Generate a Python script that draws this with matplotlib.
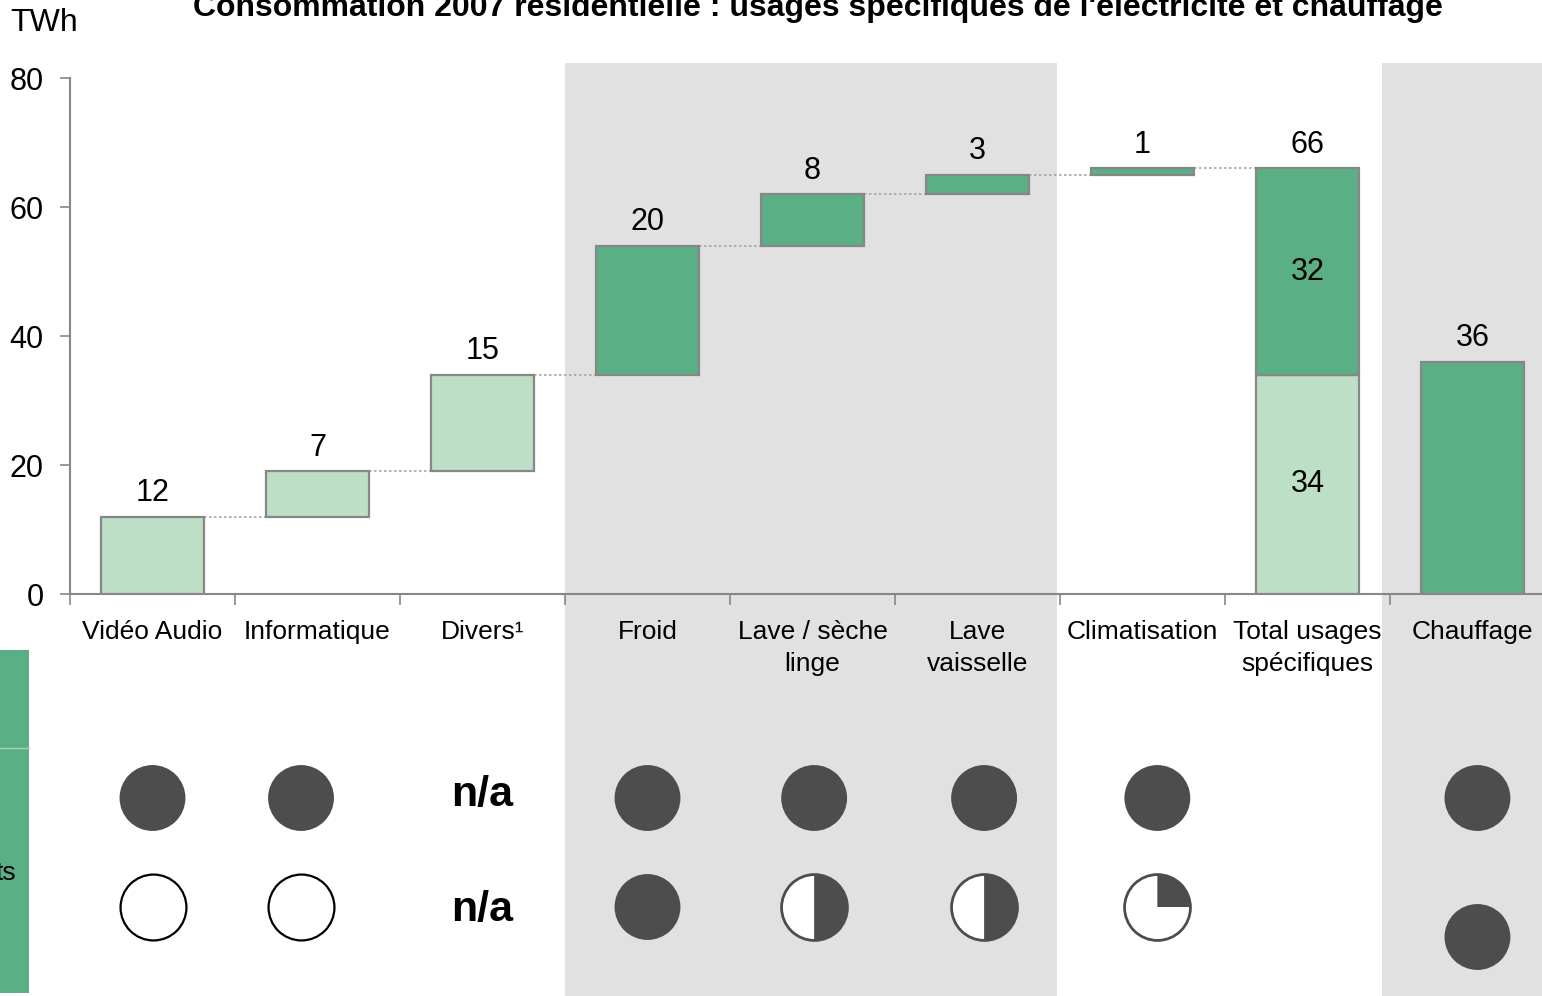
import numpy as np
import matplotlib
matplotlib.use('Agg')
import matplotlib.pyplot as plt
from matplotlib.patches import Rectangle
from matplotlib.path import Path
import matplotlib.transforms as mtransforms

plt.rcParams['font.family'] = ['Liberation Sans', 'DejaVu Sans']

# données (TWh)
categories = ['Vidéo Audio', 'Informatique', 'Divers¹', 'Froid', 'Lave / sèche\nlinge',
              'Lave\nvaisselle', 'Climatisation', 'Total usages\nspécifiques', 'Chauffage']
steps = [12, 7, 15, 20, 8, 3, 1]             # cascade des usages spécifiques
steps_dark = [False, False, False, True, True, True, True]
total_light = 34
total_dark = 32
total = 66
chauffage = 36
# boules de Harvey (None = vide / n/a)
row1 = [1, 1, None, 1, 1, 1, 1, None, 1]
row2 = [0, 0, None, 1, 0.5, 0.5, 0.25, None, 1]
na_cols = [2]

# mise en page
ball_x = [0, 0.9, 2, 3, 4.01, 5.04, 6.09, 7, 8.03]
LIGHT = '#BCDFC5'
DARK = '#5BAF84'
EDGE = '#878787'
GRAYBG = '#E1E1E1'
BALL = '#4D4D4D'
W = 0.63
FS_VAL = 22

fig = plt.figure(figsize=(15.42, 9.96), dpi=100)
ax = fig.add_axes([70/1542, 1-594/996, 1485/1542, 516/996])
ax.set_facecolor('none')

# fonds gris
blend = mtransforms.blended_transform_factory(ax.transData, fig.transFigure)
for x0, x1 in [(2.5, 5.48), (7.45, 8.6)]:
    ax.add_patch(Rectangle((x0, 0), x1 - x0, 1 - 63/996, transform=blend,
                           facecolor=GRAYBG, edgecolor='none', zorder=0, clip_on=False))

# cascade
cum = np.concatenate([[0], np.cumsum(steps)])
for i, v in enumerate(steps):
    ax.bar(i, v, bottom=cum[i], width=W, color=DARK if steps_dark[i] else LIGHT,
           edgecolor=EDGE, linewidth=1.6, zorder=3)
    ax.annotate(str(v), (i, cum[i+1]), xytext=(0, 6), textcoords='offset points',
                ha='center', va='bottom', fontsize=FS_VAL)
    ax.plot([i + W/2, i + 1 - W/2], [cum[i+1], cum[i+1]], ls=(0, (1.5, 1.5)),
            color='#A6A6A6', lw=1.2, zorder=2)

it = len(steps)
ax.bar(it, total_light, width=W, color=LIGHT, edgecolor=EDGE, linewidth=1.6, zorder=3)
ax.bar(it, total_dark, bottom=total_light, width=W, color=DARK, edgecolor=EDGE,
       linewidth=1.6, zorder=3)
ax.text(it, total_light/2, str(total_light), ha='center', va='center', fontsize=FS_VAL, zorder=4)
ax.text(it, total_light + total_dark/2, str(total_dark), ha='center', va='center',
        fontsize=FS_VAL, zorder=4)
ax.annotate(str(total), (it, total), xytext=(0, 6), textcoords='offset points',
            ha='center', va='bottom', fontsize=FS_VAL)

ic = it + 1
ax.bar(ic, chauffage, width=W, color=DARK, edgecolor=EDGE, linewidth=1.6, zorder=3)
ax.annotate(str(chauffage), (ic, chauffage), xytext=(0, 6), textcoords='offset points',
            ha='center', va='bottom', fontsize=FS_VAL)

# axes
ax.set_xlim(-0.5, 8.5)
ax.set_ylim(0, 80)
ax.set_yticks([0, 20, 40, 60, 80])
ax.tick_params(axis='y', labelsize=22, length=7, width=1.2, color=EDGE, pad=12)
ax.set_xticks(np.arange(-0.5, 9, 1))
ax.set_xticks(np.arange(9), minor=True)
ax.set_xticklabels([])
ax.set_xticklabels(categories, minor=True, fontsize=19, linespacing=1.4)
ax.tick_params(axis='x', which='major', length=8, width=1.2, color=EDGE)
ax.tick_params(axis='x', which='minor', length=0, pad=19)
for s in ['top', 'right']:
    ax.spines[s].set_visible(False)
for s in ['left', 'bottom']:
    ax.spines[s].set_color(EDGE)
    ax.spines[s].set_linewidth(1.5)

# boules de Harvey
hb = fig.add_axes([70/1542, 0, 1485/1542, 296/996])
hb.set_facecolor('none')
hb.set_xlim(-0.5, 8.5)
hb.set_ylim(-89/109, 1 + 98/109)
hb.axis('off')

S = 2250


def harvey(x, y, v):
    if v == 1:
        hb.scatter([x], [y], s=S, marker='o', color=BALL, edgecolors='none', zorder=3)
    elif v == 0:
        hb.scatter([x], [y], s=S, marker='o', facecolors='white', edgecolors='black',
                   linewidths=1.6, zorder=3)
    else:
        hb.scatter([x], [y], s=S, marker='o', facecolors='white', edgecolors=BALL,
                   linewidths=2, zorder=3)
        wedge = Path.wedge(90 - 360 * v, 90)
        hb.scatter([x], [y], s=S, marker=wedge, color=BALL, edgecolors='none', zorder=4)


for i, v in enumerate(row1):
    if v is not None:
        harvey(ball_x[i], 1, v)
for i, v in enumerate(row2):
    if v is not None:
        harvey(ball_x[i], -30/109 if i == 8 else 0, v)
for i in na_cols:
    hb.text(i, 1.03, 'n/a', ha='center', va='center', fontsize=31, fontweight='bold')
    hb.text(i, -0.03, 'n/a', ha='center', va='center', fontsize=31, fontweight='bold')

# bandeau vert à gauche
fig.add_artist(Rectangle((0, 3/996), 29/1542, 343/996, transform=fig.transFigure,
                         facecolor=DARK, edgecolor='none'))
fig.add_artist(plt.Line2D([0, 29/1542], [1 - 748/996, 1 - 748/996],
                          transform=fig.transFigure, color='#9FD3B2', lw=1))
fig.text(16/1542, 1 - 873/996, 'ts', ha='right', va='center', fontsize=19)

fig.text(10/1542, 1 - 23/996, 'TWh', ha='left', va='center', fontsize=23)
fig.text(818/1542, 1 - 16/996,
         "Consommation 2007 résidentielle : usages spécifiques de l'électricité et chauffage",
         ha='center', va='baseline', fontsize=23, fontweight='bold')

fig.savefig('out.png', dpi=100)
